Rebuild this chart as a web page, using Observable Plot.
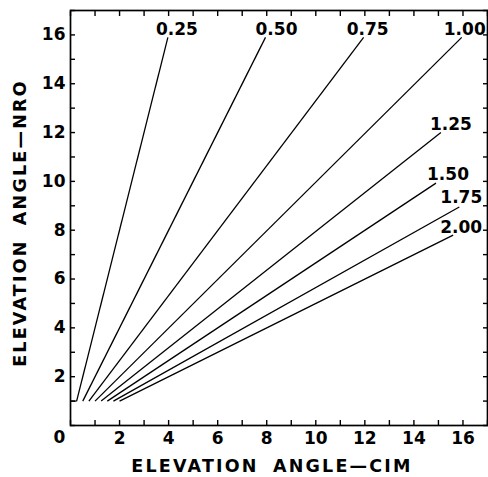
<!DOCTYPE html>
<html><head><meta charset="utf-8">
<script src="https://cdn.jsdelivr.net/npm/d3@7"></script>
<script src="https://cdn.jsdelivr.net/npm/@observablehq/plot@0.6"></script>
<style>
body{margin:0;background:#fff}
</style>
</head><body><div id="chart"></div>
<script>
// Ratio labels for each line
const ratios = ["0.25","0.50","0.75","1.00","1.25","1.50","1.75","2.00"];
// Line start (elevation CIM, elevation NRO)
const startCIM = [0.25,0.50,0.75,1.00,1.25,1.50,1.75,2.00];
const startNRO = [1,1,1,1,1,1,1,1];
// Line end
const endCIM = [3.97,7.95,11.95,15.95,15.1,14.9,15.85,15.6];
const endNRO = [15.9,15.9,15.9,15.9,12.0,9.93,8.95,7.8];
// Floor segment at 1 degree
const floorCIM = [0,0.25];
const floorNRO = [1,1];
// Ticks
const minorTicks = [0,1,2,3,4,5,6,7,8,9,10,11,12,13,14,15,16,17];
const xTickLabels = [2,4,6,8,10,12,14,16];
const yTickLabels = [2,4,6,8,10,12,14,16];
const originLabel = [0];
const xTitle = "ELEVATION ANGLE—CIM";
const yTitle = "ELEVATION ANGLE—NRO";

const lines = ratios.map((r,i)=>({r, x1:startCIM[i], y1:startNRO[i], x2:endCIM[i], y2:endNRO[i]}));
const floor = [{x1:floorCIM[0], y1:floorNRO[0], x2:floorCIM[1], y2:floorNRO[1]}];

// label nudges (pixels) relative to each line end
const nudgeX = {"0.25":9,"0.50":11,"0.75":4,"1.00":3,"1.25":10,"1.50":12,"1.75":2,"2.00":8};
const nudgeY = {"0.25":-8,"0.50":-8,"0.75":-8,"1.00":-8,"1.25":-8.5,"1.50":-8.5,"1.75":-9.5,"2.00":-7.5};

const font = {fontFamily:"DejaVu Sans", fontWeight:"bold", fontSize:17, fill:"black"};
const blank = () => "";

const chart = Plot.plot({
  width:488, height:477,
  marginLeft:70, marginRight:1, marginTop:10, marginBottom:52,
  x:{domain:[0,17]}, y:{domain:[0,17]},
  style:{fontFamily:"DejaVu Sans", fontSize:"17px", fontWeight:"bold", color:"black", background:"white"},
  marks:[
    Plot.axisX({anchor:"bottom", ticks:minorTicks, tickSize:-5, tickFormat:blank, label:null, strokeWidth:1.4}),
    Plot.axisX({anchor:"top", ticks:minorTicks, tickSize:-5, tickFormat:blank, label:null, strokeWidth:1.4}),
    Plot.axisY({anchor:"left", ticks:minorTicks, tickSize:-5, tickFormat:blank, label:null, strokeWidth:1.4}),
    Plot.axisY({anchor:"right", ticks:minorTicks, tickSize:-5, tickFormat:blank, label:null, strokeWidth:1.4}),
    Plot.axisX({anchor:"bottom", ticks:xTickLabels, tickSize:0, tickPadding:6, label:null}),
    Plot.axisY({anchor:"left", ticks:yTickLabels, tickSize:0, tickPadding:5, label:null}),
    Plot.text(originLabel, {x:d=>d, frameAnchor:"bottom", text:d=>String(d), dx:-11, dy:12, lineAnchor:"middle", ...font}),
    Plot.frame({stroke:"black", strokeWidth:1.7}),
    Plot.link(floor, {x1:"x1", y1:"y1", x2:"x2", y2:"y2", stroke:"black", strokeWidth:1.3}),
    Plot.link(lines, {x1:"x1", y1:"y1", x2:"x2", y2:"y2", stroke:"black", strokeWidth:1.3}),
    ...lines.map(l => Plot.text([l], {x:"x2", y:"y2", text:"r", dx:nudgeX[l.r], dy:nudgeY[l.r], lineAnchor:"middle", ...font})),
    Plot.text([xTitle], {frameAnchor:"bottom", text:d=>d, dx:-7, dy:41, lineAnchor:"middle", textAnchor:"middle", ...font, fontSize:17.5}),
    Plot.text([yTitle], {frameAnchor:"left", text:d=>d, dx:-50, dy:5, rotate:-90, lineAnchor:"middle", textAnchor:"middle", ...font, fontSize:17.5})
  ]
});
d3.select(chart).selectAll("text").filter(function(){ return this.textContent === xTitle || this.textContent === yTitle; })
  .style("letter-spacing","2.2px").style("word-spacing","6px");
document.getElementById("chart").appendChild(chart);
</script>
</body></html>
